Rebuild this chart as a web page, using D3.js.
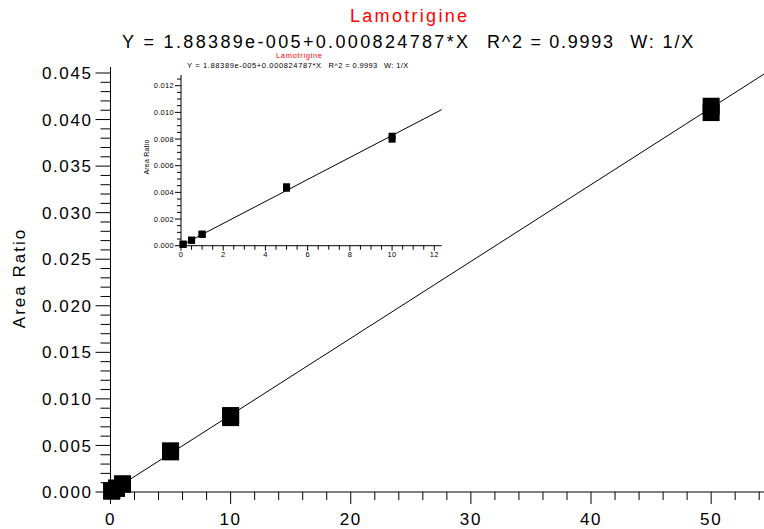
<!DOCTYPE html>
<html><head><meta charset="utf-8">
<script src="https://cdn.jsdelivr.net/npm/d3@7"></script>
<style>
html,body{margin:0;padding:0;background:#fff;}
svg{display:block;font-family:"Liberation Sans",Arial,sans-serif;}
</style></head>
<body><svg id="c" width="764" height="529"></svg>
<script>
const title = "Lamotrigine";
const equationParts = ["Y = 1.88389e-005+0.000824787*X", "R^2 = 0.9993", "W: 1/X"];
const yLabel = "Area Ratio";
const intercept = 1.88389e-5;
const slope = 0.000824787;
const conc = [0.1, 0.1, 0.5, 0.5, 1, 1, 5, 5, 10, 10, 50, 50];
const ratio = [0.00010, 0.00012, 0.00040, 0.00042, 0.00087, 0.00085, 0.00442, 0.00431, 0.00821, 0.00799, 0.04143, 0.04075];
const mainXTicks = [0, 10, 20, 30, 40, 50];
const mainYTicks = [0, 0.005, 0.010, 0.015, 0.020, 0.025, 0.030, 0.035, 0.040, 0.045];
const insetXTicks = [0, 2, 4, 6, 8, 10, 12];
const insetYTicks = [0, 0.002, 0.004, 0.006, 0.008, 0.010, 0.012];

// layout fractions of the equation line (start, width) for each part
const partStart = [0, 0.637, 0.887];
const partWidth = [0.604, 0.220, 0.110];

const svg = d3.select("#c");
const data = conc.map((c, i) => ({x: c, y: ratio[i]}));

function panel(g, o) {
  const x = d3.scaleLinear().domain(o.xd).range(o.xr);
  const y = d3.scaleLinear().domain(o.yd).range(o.yr);
  g.append("line").attr("x1", o.xr[0]).attr("x2", o.xr[1]).attr("y1", o.yr[0]).attr("y2", o.yr[0]).attr("stroke", "#000").attr("stroke-width", 1);
  g.append("line").attr("x1", o.xr[0]).attr("x2", o.xr[0]).attr("y1", o.yr[0]).attr("y2", o.yTop).attr("stroke", "#000").attr("stroke-width", 1);
  const xMinor = d3.range(o.xd[0], o.xd[1] + 1e-9, o.xMinorStep);
  g.selectAll(null).data(xMinor).enter().append("line")
    .attr("x1", d => x(d)).attr("x2", d => x(d))
    .attr("y1", o.yr[0]).attr("y2", d => o.yr[0] + (o.xTicks.some(t => Math.abs(t - d) < 1e-9) ? o.majLen : o.minLen))
    .attr("stroke", "#000").attr("stroke-width", 1);
  g.selectAll(null).data(o.xTicks).enter().append("text")
    .attr("x", d => x(d)).attr("y", o.yr[0] + o.xLabDy)
    .attr("text-anchor", "middle").attr("font-size", o.fs).attr("letter-spacing", o.ls)
    .text(d => d3.format("d")(d));
  const yMinor = d3.range(0, o.yMinorCount + 1).map(i => i * o.yMinorStep);
  g.selectAll(null).data(yMinor).enter().append("line")
    .attr("x1", o.xr[0]).attr("x2", d => o.xr[0] - (o.yTicks.some(t => Math.abs(t - d) < 1e-9) ? o.yMajLen : o.yMinLen))
    .attr("y1", d => y(d)).attr("y2", d => y(d))
    .attr("stroke", "#000").attr("stroke-width", 1);
  g.selectAll(null).data(o.yTicks).enter().append("text")
    .attr("x", o.xr[0] - o.yLabDx).attr("y", d => y(d) + o.fs * 0.36)
    .attr("text-anchor", "end").attr("font-size", o.fs).attr("letter-spacing", o.ls)
    .text(d => d3.format(".3f")(d));
  const line = d3.line().x(d => x(d)).y(d => y(intercept + slope * d));
  g.append("path").datum([0, o.xd[1]]).attr("d", line).attr("fill", "none").attr("stroke", "#000").attr("stroke-width", 1);
  const pts = data.filter(d => d.x <= o.xd[1]);
  g.selectAll(null).data(pts).enter().append("rect")
    .attr("x", d => x(d.x) - o.sq / 2).attr("y", d => y(d.y) - o.sq / 2)
    .attr("width", o.sq).attr("height", o.sq).attr("fill", "#000");
  g.append("text").attr("x", o.tx1).attr("y", o.ty1).attr("fill", "#ff0000")
    .attr("font-size", o.tfs1).attr("textLength", o.tw1).attr("lengthAdjust", "spacing").text(title);
  const eq = g.append("text").attr("y", o.ty2).attr("fill", "#000").attr("font-size", o.tfs2);
  eq.selectAll("tspan").data(equationParts).enter().append("tspan")
    .attr("x", (d, i) => o.tx2 + partStart[i] * o.tw2)
    .attr("textLength", (d, i) => partWidth[i] * o.tw2).attr("lengthAdjust", "spacing")
    .text(d => d);
  g.append("text").attr("transform", `translate(${o.ylx},${o.yly}) rotate(-90)`).attr("text-anchor", "middle")
    .attr("font-size", o.yfs).attr("letter-spacing", o.yls).text(yLabel);
}

// main chart
panel(svg.append("g"), {
  xd: [0, 54.4], xr: [110.5, 764], yd: [0, 0.045], yr: [492, 73], yTop: 67,
  xTicks: mainXTicks, yTicks: mainYTicks, xMinorStep: 2, yMinorStep: 0.001, yMinorCount: 45,
  majLen: 12, minLen: 8, yMajLen: 15, yMinLen: 10, fs: 17, ls: 1.6, xLabDy: 33, yLabDx: 18,
  sq: 17, tx1: 350, tw1: 117, ty1: 22, tfs1: 18, tx2: 122, tw2: 573, ty2: 48, tfs2: 18,
  ylx: 25, yly: 278, yfs: 17, yls: 2
});
// inset chart
panel(svg.append("g"), {
  xd: [0, 12.35], xr: [181, 441.7], yd: [0, 0.012], yr: [245.7, 85.7], yTop: 75,
  xTicks: insetXTicks, yTicks: insetYTicks, xMinorStep: 0.5, yMinorStep: 0.0005, yMinorCount: 25,
  majLen: 5, minLen: 4, yMajLen: 6, yMinLen: 4, fs: 7.5, ls: 0.3, xLabDy: 11, yLabDx: 7,
  sq: 7, tx1: 276, tw1: 46, ty1: 58, tfs1: 7.5, tx2: 187, tw2: 222, ty2: 68, tfs2: 7.5,
  ylx: 149, yly: 157, yfs: 7, yls: 0.2
});
</script></body></html>
